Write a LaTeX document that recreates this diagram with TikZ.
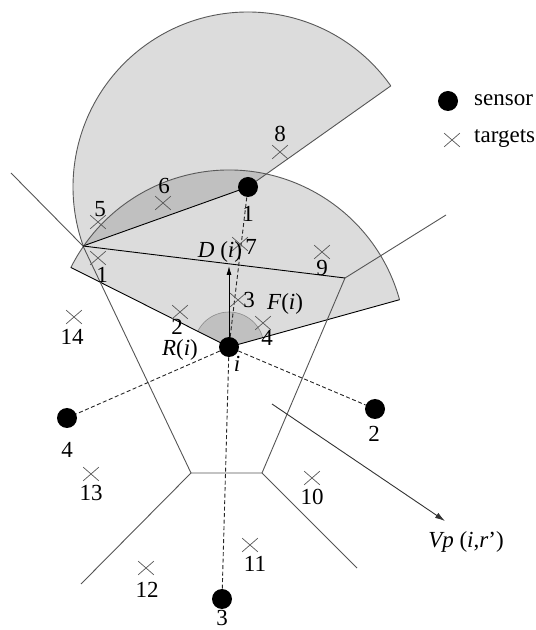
\documentclass[tikz,border=0pt]{standalone}
\usepackage{fontspec}
\setmainfont{Liberation Serif}
\usetikzlibrary{arrows.meta,shapes.misc}
\definecolor{lgray}{RGB}{220,220,220}
\definecolor{dgray}{RGB}{192,192,192}
\definecolor{vgray}{RGB}{85,85,85}
\begin{document}
\begin{tikzpicture}[x=1pt,y=1pt,
  lab/.style={font=\fontsize{23}{23}\selectfont, inner sep=0pt},
  sens/.style={circle, fill=black, minimum size=20pt, inner sep=0pt},
  tgt/.style={draw=black!65, cross out, minimum width=15pt, minimum height=13pt, inner sep=0pt, line width=0.7pt},
  vor/.style={draw=vgray, line width=0.9pt},
  dsh/.style={draw=black!85, dash pattern=on 4pt off 2.5pt, line width=0.9pt},
  secedge/.style={draw=black, line width=0.9pt},
  secarc/.style={draw=black!65, line width=0.9pt}
]
\useasboundingbox (0,0) rectangle (536,630);
% positions
\coordinate (pi) at (229,283);
\coordinate (p1) at (248,443);
\coordinate (V1) at (83,384);
\coordinate (V2) at (345,352);
\coordinate (V3) at (262,157);
\coordinate (V4) at (191,157);
\coordinate (R1) at (11,457);
\coordinate (R2) at (446,415);
\coordinate (R3) at (357,62);
\coordinate (R4) at (81,46);
\coordinate (vpA) at (272,226);
\coordinate (vpB) at (445,109);
\coordinate (dTip) at (229,364);
% sector of sensor 1
\fill[lgray] (p1) -- ([shift={(35.3:175)}]p1) arc[start angle=35.3, end angle=199.7, radius=175] -- cycle;
% sector of sensor i
\fill[lgray] (pi) -- ([shift={(15.5:177)}]pi) arc[start angle=15.5, end angle=153.3, radius=177] -- cycle;
% overlap
\begin{scope}
  \clip (pi) -- ([shift={(15.5:177)}]pi) arc[start angle=15.5, end angle=153.3, radius=177] -- cycle;
  \fill[dgray] (p1) -- ([shift={(35.3:175)}]p1) arc[start angle=35.3, end angle=199.7, radius=175] -- cycle;
\end{scope}
% F(i) small sector
\fill[dgray] (pi) -- ([shift={(15.5:35)}]pi) arc[start angle=15.5, end angle=153.3, radius=35] -- cycle;
\draw[draw=black!45, line width=0.6pt] ([shift={(15.5:35)}]pi) arc[start angle=15.5, end angle=153.3, radius=35];
% outlines
\draw[secarc] ([shift={(35.3:175)}]p1) arc[start angle=35.3, end angle=199.7, radius=175];
\draw[vor] (p1) -- ([shift={(35.3:175)}]p1);
\draw[secedge] (p1) -- (V1);
\draw[secarc] ([shift={(15.5:177)}]pi) arc[start angle=15.5, end angle=153.3, radius=177];
\draw[secedge] ([shift={(15.5:177)}]pi) -- (pi) -- ([shift={(153.3:177)}]pi);
% Voronoi cell
\draw[vor] (R1) -- (V1) -- (V4) -- (V3) -- (V2) -- (R2);
\draw[secedge] (V1) -- (V2);
\draw[vor] (V4) -- (R4);
\draw[vor] (V3) -- (R3);
% sensors
\node[sens] (i) at (pi) {};
\node[sens] (s1) at (p1) {};
\node[sens] (s2) at (375,221) {};
\node[sens] (s3) at (222,31) {};
\node[sens] (s4) at (67,212) {};
% dashed links
\draw[dsh] (i) -- (s1);
\draw[dsh] (i) -- (s2);
\draw[dsh] (i) -- (s3);
\draw[dsh] (i) -- (s4);
% arrows
\draw[black, line width=0.8pt, -{Latex[length=9pt,width=5pt]}] (i.center) -- (dTip);
\draw[black!80, line width=0.9pt, -{Latex[length=10pt,width=6pt]}] (vpA) -- (vpB);
% targets
\foreach \n/\x/\y/\lx/\ly in {1/98/372/102/355, 2/180/318/177/303, 3/238/330/249/330,
  4/263/307/267/292, 5/98/408/100/421, 6/163/427/164/444, 7/240/386/251/383,
  8/280/478/280/496, 9/322/378/322/362, 10/312/152/312/133, 11/250/85/255/66,
  12/146/62/147/40, 13/91/156/91/137, 14/74/313/72/293}{
  \node[tgt] (t\n) at (\x,\y) {};
  \node[lab] (lt\n) at (\lx,\ly) {\n};
}
% sensor labels
\node[lab] (li) at (237,266) {\textit{i}};
\node[lab] (l1) at (248,416) {1};
\node[lab] (l2) at (374,196) {2};
\node[lab] (l3) at (222,12.5) {3};
\node[lab] (l4) at (67,180) {4};
% other labels
\node[lab] (lD) at (220,378) {\textit{D} (\textit{i})};
\node[lab] (lR) at (180,280) {\textit{R}(\textit{i})};
\node[lab] (lF) at (285,326) {\textit{F}(\textit{i})};
\node[lab] (lVp) at (466,88) {\textit{Vp} (\textit{i},\textit{r}')};
% legend
\node[sens] (ls) at (448,529) {};
\node[lab, anchor=west] (lst) at (474,530) {sensor};
\node[tgt] (lt) at (452,490) {};
\node[lab, anchor=west] (ltt) at (474,491) {targets};
\end{tikzpicture}
\end{document}
